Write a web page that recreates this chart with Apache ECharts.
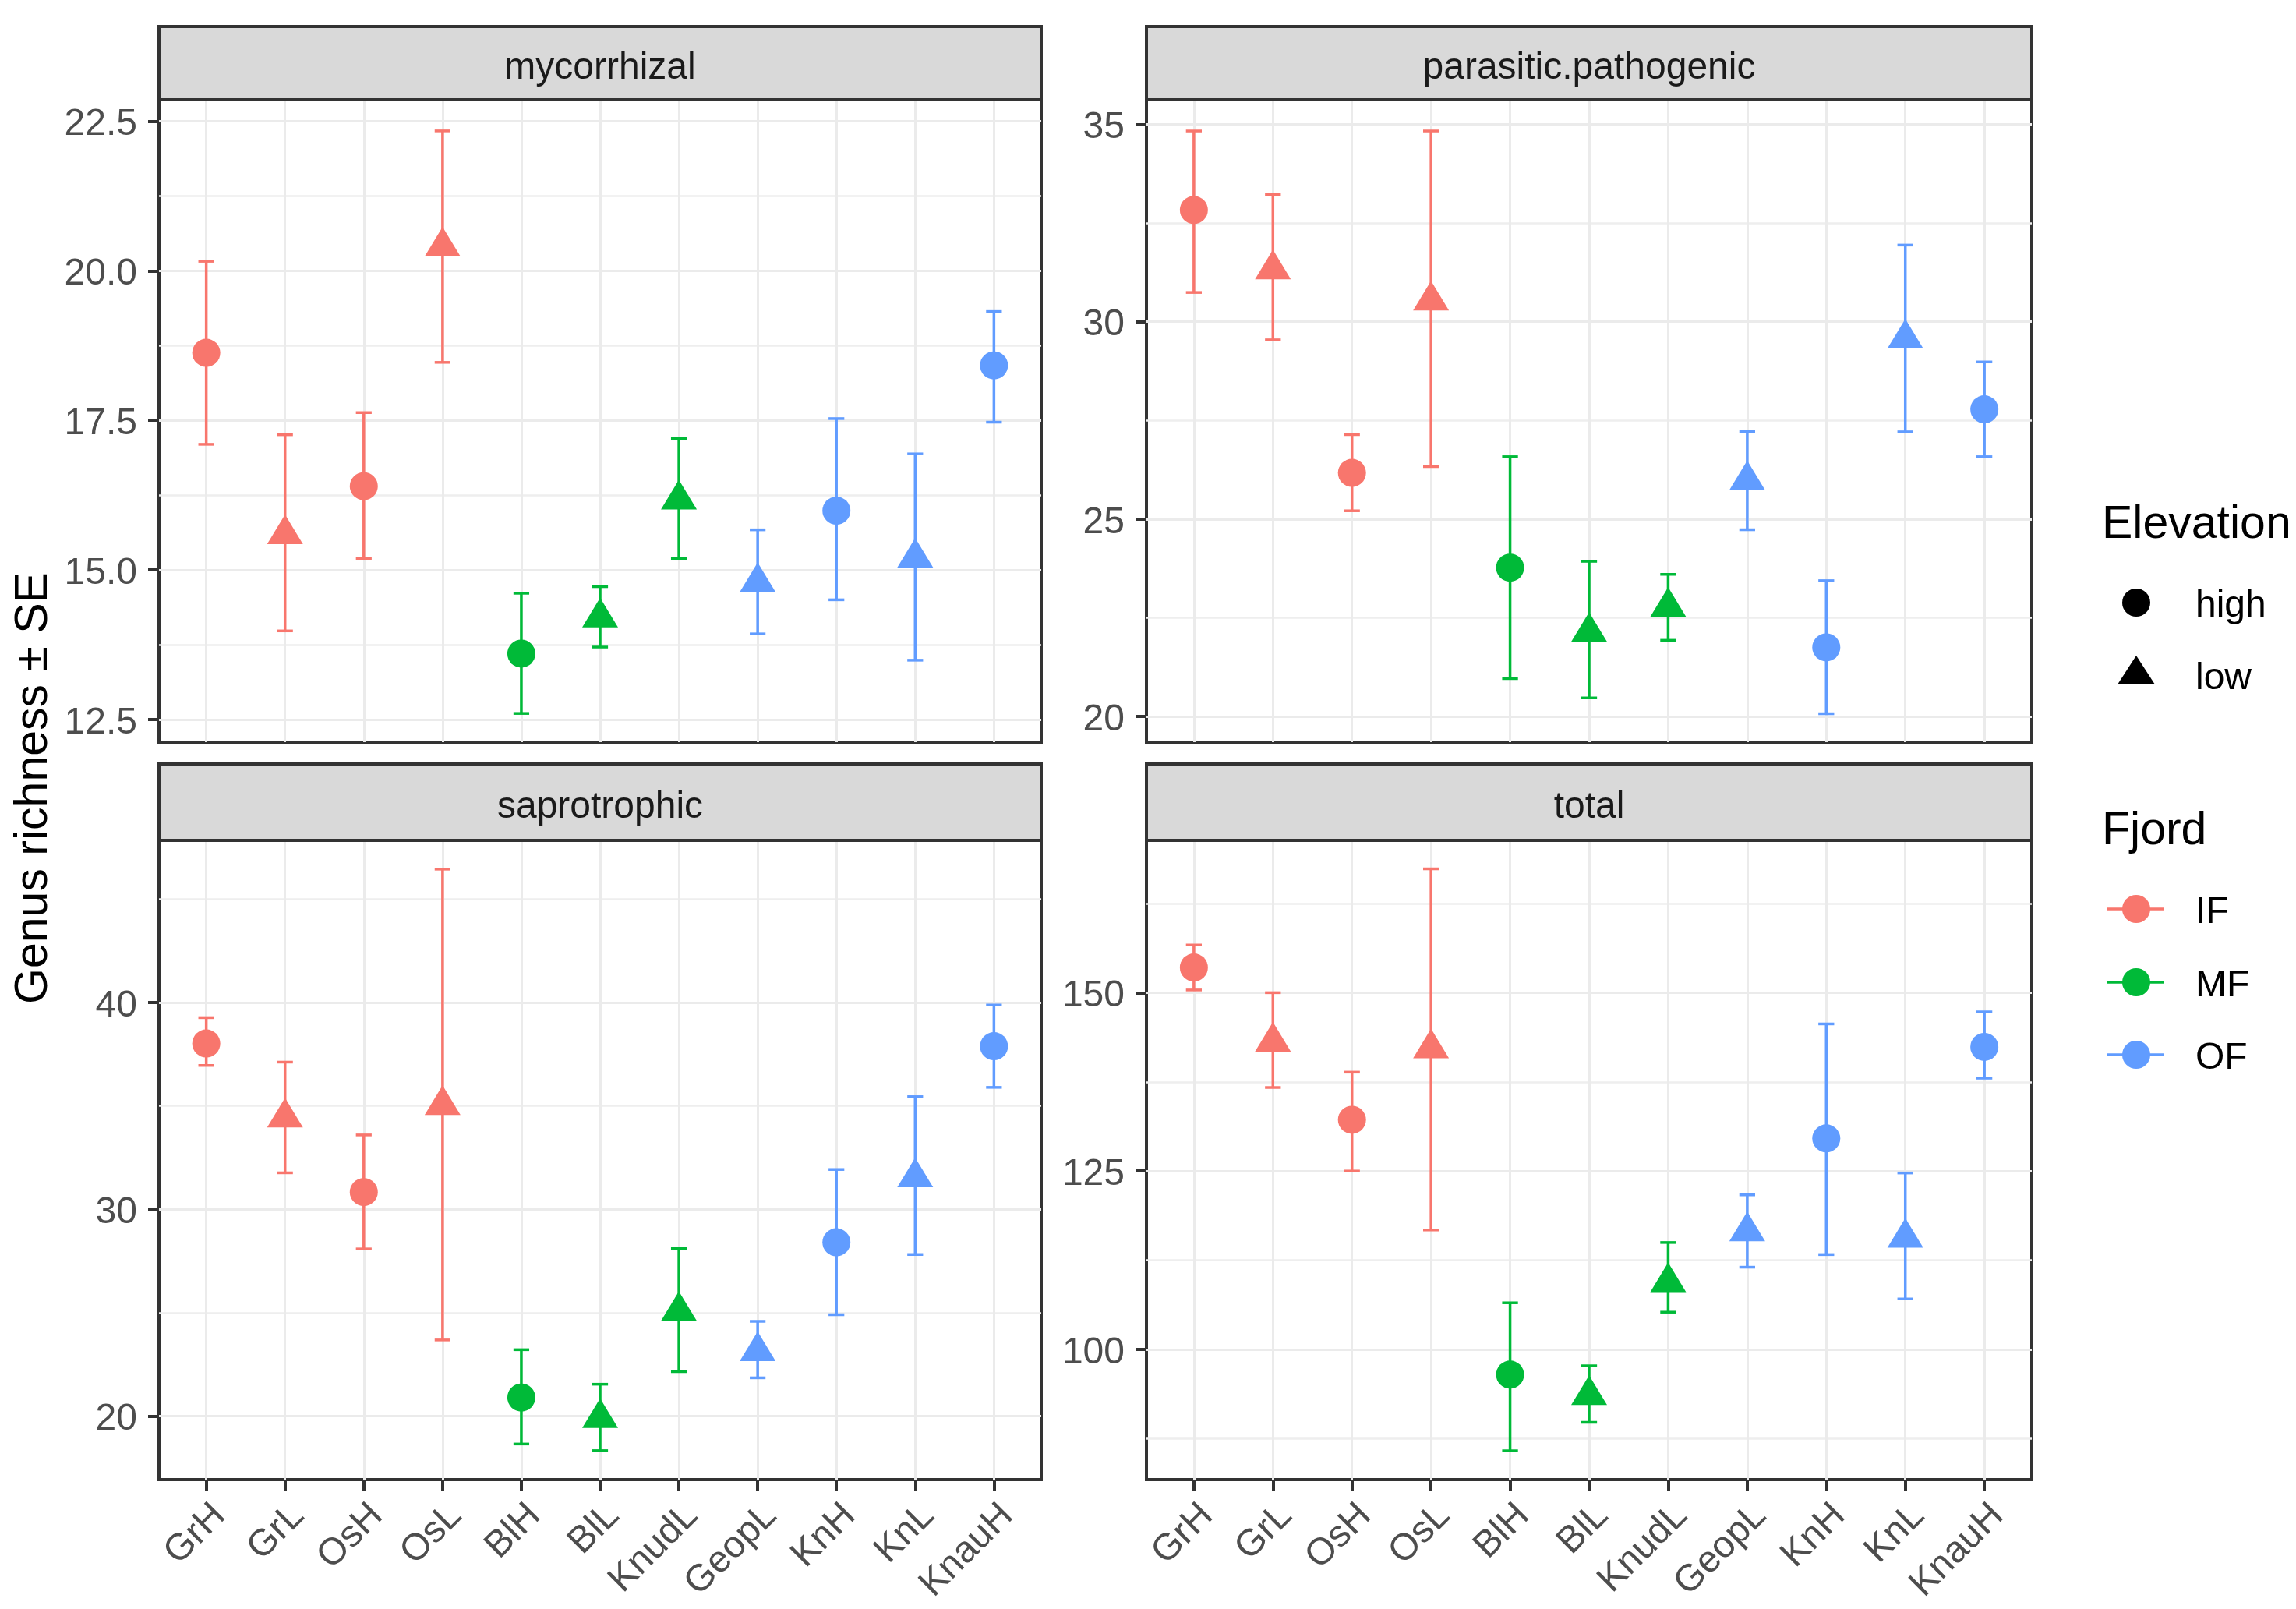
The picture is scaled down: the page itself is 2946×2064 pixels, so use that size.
<!DOCTYPE html>
<html><head><meta charset="utf-8">
<script src="https://cdn.jsdelivr.net/npm/echarts@6/dist/echarts.min.js"></script>
<style>html,body{margin:0;padding:0;background:#fff;} #c{width:2946px;height:2064px;}</style>
</head><body><div id="c"></div>
<script>
// ---------- data ----------
const categories = ['GrH','GrL','OsH','OsL','BlH','BlL','KnudL','GeopL','KnH','KnL','KnauH'];
const fjordOf = ['IF','IF','IF','IF','MF','MF','MF','OF','OF','OF','OF'];
const elevationOf = ['high','low','high','low','high','low','low','low','high','low','high'];
const fjords = ['IF','MF','OF'];
const fjordColors = ['#F8766D','#00BA38','#619CFF'];
const elevations = ['high','low'];
const panelNames = ['mycorrhizal','parasitic.pathogenic','saprotrophic','total'];

const mycMean  = [18.63, 15.60, 16.40, 20.41, 13.60, 14.21, 16.18, 14.80, 15.99, 15.21, 18.42];
const mycLower = [17.10, 13.98, 15.19, 18.47, 12.60, 13.71, 15.19, 13.93, 14.50, 13.49, 17.47];
const mycUpper = [20.16, 17.26, 17.63, 22.34, 14.61, 14.72, 17.20, 15.67, 17.53, 16.94, 19.32];

const parMean  = [32.83, 31.33, 26.17, 30.54, 23.77, 22.15, 22.78, 25.99, 21.75, 29.58, 27.78];
const parLower = [30.74, 29.54, 25.21, 26.33, 20.96, 20.47, 21.93, 24.73, 20.07, 27.21, 26.58];
const parUpper = [34.83, 33.22, 27.14, 34.83, 26.58, 23.93, 23.60, 27.22, 23.44, 31.94, 28.98];

const sapMean  = [38.01, 34.44, 30.83, 35.05, 20.90, 19.92, 25.09, 23.15, 28.40, 31.55, 37.88];
const sapLower = [36.95, 31.76, 28.08, 23.68, 18.65, 18.33, 22.15, 21.85, 24.90, 27.81, 35.89];
const sapUpper = [39.26, 37.11, 33.59, 46.44, 23.21, 21.54, 28.11, 24.58, 31.92, 35.44, 39.87];

const totMean  = [153.53, 143.16, 132.18, 142.24, 96.47, 93.63, 109.45, 116.59, 129.57, 115.67, 142.40];
const totLower = [150.38, 136.71, 125.00, 116.74, 85.79, 89.78, 105.22, 111.52, 113.29, 107.07, 138.02];
const totUpper = [156.68, 150.00, 138.86, 167.36, 106.53, 97.70, 114.98, 121.66, 145.62, 124.73, 147.31];

const mycTicks = [12.5, 15, 17.5, 20, 22.5];
const mycTickLabels = ['12.5','15.0','17.5','20.0','22.5'];
const mycMinor = [13.75, 16.25, 18.75, 21.25];
const parTicks = [20, 25, 30, 35];
const parTickLabels = ['20','25','30','35'];
const parMinor = [22.5, 27.5, 32.5];
const sapTicks = [20, 30, 40];
const sapTickLabels = ['20','30','40'];
const sapMinor = [25, 35, 45];
const totTicks = [100, 125, 150];
const totTickLabels = ['100','125','150'];
const totMinor = [87.5, 112.5, 137.5, 162.5];

const yTitle = 'Genus richness \u00b1 SE';
const elevationTitle = 'Elevation';
const fjordTitle = 'Fjord';

// ---------- layout ----------
const FONT = 'Liberation Sans, Arial, sans-serif';
const panelData = [
  {mean: mycMean, lower: mycLower, upper: mycUpper, ticks: mycTicks, labels: mycTickLabels, minor: mycMinor, min: 12.12, max: 22.86},
  {mean: parMean, lower: parLower, upper: parUpper, ticks: parTicks, labels: parTickLabels, minor: parMinor, min: 19.35, max: 35.62},
  {mean: sapMean, lower: sapLower, upper: sapUpper, ticks: sapTicks, labels: sapTickLabels, minor: sapMinor, min: 16.93, max: 47.83},
  {mean: totMean, lower: totLower, upper: totUpper, ticks: totTicks, labels: totTickLabels, minor: totMinor, min: 81.75, max: 171.35}
];
const panelBoxes = [
  {left: 204, top: 128, width: 1132, height: 824, stripTop: 34, bottomRow: false},
  {left: 1471, top: 128, width: 1136, height: 824, stripTop: 34, bottomRow: false},
  {left: 204, top: 1078, width: 1132, height: 820, stripTop: 980, bottomRow: true},
  {left: 1471, top: 1078, width: 1136, height: 820, stripTop: 980, bottomRow: true}
];

const grids = [], xAxes = [], yAxes = [], series = [], graphics = [];
const xValues = categories.map((c, i) => i + 1);

panelBoxes.forEach((b, p) => {
  const d = panelData[p];
  grids.push({left: b.left, top: b.top, width: b.width, height: b.height, show: true,
    backgroundColor: '#fff', borderColor: '#333333', borderWidth: 4, z: 0});
  xAxes.push({type: 'value', gridIndex: p, min: 0.4, max: 11.6,
    axisLine: {show: false},
    axisTick: {show: b.bottomRow, length: 14, lineStyle: {color: '#333333', width: 4}, customValues: xValues},
    axisLabel: {show: b.bottomRow, customValues: xValues, rotate: 45, margin: 22, align: 'right', verticalAlign: 'top',
      fontSize: 48, fontFamily: FONT, color: '#4D4D4D',
      formatter: v => categories[Math.round(v) - 1]},
    splitLine: {show: true, lineStyle: {color: '#EBEBEB', width: 3}}
  });
  const fmt = v => { const k = d.ticks.indexOf(v); return k >= 0 ? '{t|' + d.labels[k] + '}' : ''; };
  yAxes.push({type: 'value', gridIndex: p, min: d.min, max: d.max,
    axisLine: {show: false},
    axisTick: {show: true, length: 14, lineStyle: {color: '#333333', width: 4}, customValues: d.ticks},
    axisLabel: {show: true, customValues: d.ticks, margin: 28, fontSize: 48, fontFamily: FONT, color: '#4D4D4D', formatter: fmt,
      rich: {t: {fontSize: 48, fontFamily: FONT, color: '#4D4D4D', padding: [9, 0, 0, 0]}}},
    splitLine: {show: true, lineStyle: {color: '#EBEBEB', width: 3}}
  });
  yAxes.push({type: 'value', gridIndex: p, min: d.min, max: d.max,
    axisLine: {show: false},
    axisTick: {show: false, customValues: d.minor},
    axisLabel: {show: false, customValues: d.minor},
    splitLine: {show: true, lineStyle: {color: '#EEEEEE', width: 2.5}}
  });
  const yMajor = yAxes.length - 2;

  // error bars
  const ebData = categories.map((c, i) => ({value: [i + 1, d.lower[i], d.upper[i]],
    itemStyle: {color: fjordColors[fjords.indexOf(fjordOf[i])]}}));
  series.push({type: 'custom', xAxisIndex: p, yAxisIndex: yMajor, z: 3, silent: true,
    data: ebData,
    renderItem: (params, api) => {
      const x = api.value(0);
      const lo = api.coord([x, api.value(1)]);
      const hi = api.coord([x, api.value(2)]);
      const hw = api.size([0.2, 0])[0] / 2;
      const st = {stroke: api.visual('color'), lineWidth: 3.5};
      return {type: 'group', children: [
        {type: 'line', shape: {x1: lo[0], y1: lo[1], x2: hi[0], y2: hi[1]}, style: st},
        {type: 'line', shape: {x1: hi[0] - hw, y1: hi[1], x2: hi[0] + hw, y2: hi[1]}, style: st},
        {type: 'line', shape: {x1: lo[0] - hw, y1: lo[1], x2: lo[0] + hw, y2: lo[1]}, style: st}
      ]};
    }
  });
  // points
  fjords.forEach((f, fi) => {
    const pts = [];
    categories.forEach((c, i) => {
      if (fjordOf[i] !== f) return;
      const isLow = elevationOf[i] === 'low';
      pts.push({value: [i + 1, d.mean[i]],
        symbol: isLow ? 'triangle' : 'circle',
        symbolSize: isLow ? [46, 38] : 36,
        symbolOffset: isLow ? [0, -6] : [0, 0]});
    });
    series.push({type: 'scatter', name: f, xAxisIndex: p, yAxisIndex: yMajor, z: 4, silent: true,
      itemStyle: {color: fjordColors[fi], opacity: 1}, data: pts});
  });

  // strip
  graphics.push({type: 'rect', z: 10, shape: {x: b.left, y: b.stripTop, width: b.width, height: b.top - b.stripTop},
    style: {fill: '#D9D9D9', stroke: '#333333', lineWidth: 4}});
  graphics.push({type: 'text', z: 11, x: b.left + b.width / 2, y: (b.stripTop + b.top) / 2 + 7,
    style: {text: panelNames[p], fontSize: 48, fontFamily: FONT, fill: '#1A1A1A', align: 'center', verticalAlign: 'middle'}});
});

// y-axis title
graphics.push({type: 'text', x: 44, y: 1011, rotation: Math.PI / 2,
  style: {text: yTitle, fontSize: 59, fontFamily: FONT, fill: '#000', align: 'center', verticalAlign: 'middle'}});

// legends
const LX = 2697, KX = 2741, TX = 2817;
graphics.push({type: 'text', x: LX, y: 703, style: {text: elevationTitle, fontSize: 59, fontFamily: FONT, fill: '#000', align: 'left', verticalAlign: 'bottom'}});
const elevRows = [773, 866];
elevations.forEach((e, k) => {
  const cy = elevRows[k];
  if (e === 'high') {
    graphics.push({type: 'circle', shape: {cx: KX, cy: cy, r: 18}, style: {fill: '#000'}});
  } else {
    graphics.push({type: 'polygon', shape: {points: [[KX, cy - 25], [KX + 24, cy + 12], [KX - 24, cy + 12]]}, style: {fill: '#000'}});
  }
  graphics.push({type: 'text', x: TX, y: cy + 5, style: {text: e, fontSize: 48, fontFamily: FONT, fill: '#000', align: 'left', verticalAlign: 'middle'}});
});
graphics.push({type: 'text', x: LX, y: 1096, style: {text: fjordTitle, fontSize: 59, fontFamily: FONT, fill: '#000', align: 'left', verticalAlign: 'bottom'}});
const fjRows = [1166, 1260, 1353];
fjords.forEach((f, k) => {
  const cy = fjRows[k];
  graphics.push({type: 'line', shape: {x1: 2703, y1: cy, x2: 2777, y2: cy}, style: {stroke: fjordColors[k], lineWidth: 3.5}});
  graphics.push({type: 'circle', shape: {cx: KX, cy: cy, r: 18}, style: {fill: fjordColors[k]}});
  graphics.push({type: 'text', x: TX, y: cy + 5, style: {text: f, fontSize: 48, fontFamily: FONT, fill: '#000', align: 'left', verticalAlign: 'middle'}});
});

const chart = echarts.init(document.getElementById('c'), null, {renderer: 'canvas'});
chart.setOption({
  animation: false,
  backgroundColor: '#fff',
  grid: grids, xAxis: xAxes, yAxis: yAxes, series: series, graphic: graphics
});
</script></body></html>
